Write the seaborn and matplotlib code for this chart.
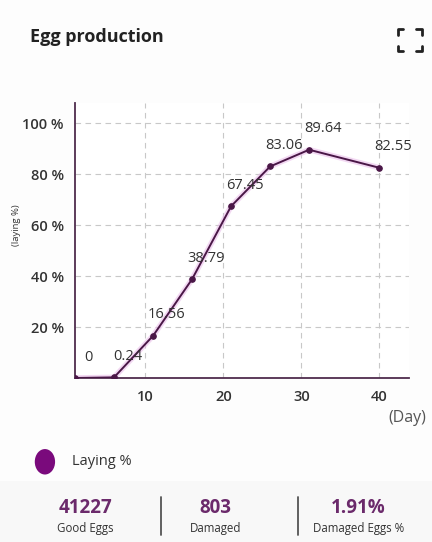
import numpy as np
import pandas as pd
import seaborn as sns
import matplotlib.pyplot as plt
from matplotlib.patches import Rectangle, Circle

sns.set_style("white")
plt.rcParams['font.family'] = ['Open Sans', 'DejaVu Sans']

# data
days = [1, 6, 11, 16, 21, 26, 31, 40]
laying = [0, 0.24, 16.56, 38.79, 67.45, 83.06, 89.64, 82.55]
y_ticks = [20, 40, 60, 80, 100]
x_ticks = [10, 20, 30, 40]
stat_values = ["41227", "803", "1.91%"]
stat_names = ["Good Eggs", "Damaged", "Damaged Eggs %"]

df = pd.DataFrame({"day": days, "laying": laying})

line_col = "#4a1747"
glow_col = "#e9b8e9"
legend_col = "#7a0a7c"
text_col = "#333333"

fig = plt.figure(figsize=(4.32, 5.42), dpi=100)
fig.patch.set_facecolor("#fdfdfd")

# bottom stats band
fig.patches.append(Rectangle((0, 0), 1, 0.112, transform=fig.transFigure,
                             facecolor="#f8f8f8", edgecolor="none", zorder=0))

ax = fig.add_axes([0.1736, 0.3026, 0.7732, 0.5074])
ax.set_facecolor("white")

# soft glow under the line
ax.plot(df["day"], df["laying"], color=glow_col, lw=4, alpha=0.55, zorder=2,
        solid_capstyle="round")
sns.lineplot(data=df, x="day", y="laying", ax=ax, color=line_col, lw=1.4,
             marker="o", markersize=4, markeredgecolor=line_col, zorder=3)

for d, v in zip(days, laying):
    lbl = "0" if v == 0 else f"{v:g}"
    ax.annotate(lbl, (d, v), xytext=(10, 15), textcoords="offset points",
                ha="center", va="center", fontsize=10.5, color=text_col,
                annotation_clip=False, zorder=4)

ax.set_xlim(1, 43.8)
ax.set_ylim(0, 108)
ax.set_xticks(x_ticks)
ax.set_yticks(y_ticks)
ax.set_yticklabels([f"{t} %" for t in y_ticks])
ax.tick_params(axis="both", length=0, labelsize=10.5, labelcolor=text_col)
for t in ax.get_xticklabels() + ax.get_yticklabels():
    t.set_fontweight("semibold")
ax.tick_params(axis="x", pad=9)
ax.tick_params(axis="y", pad=8)
ax.grid(True, color="#c8c8c8", linestyle=(0, (5, 4)), lw=0.8)
ax.set_axisbelow(True)
for s in ["top", "right"]:
    ax.spines[s].set_visible(False)
for s in ["left", "bottom"]:
    ax.spines[s].set_color("#4f2c4d")
    ax.spines[s].set_linewidth(1.3)
ax.set_xlabel("")
ax.set_ylabel("")

fig.text(0.039, 0.585, "(laying %)", rotation=90, ha="center", va="center",
         fontsize=6.8, color=text_col)
fig.text(0.9, 0.228, "(Day)", ha="left", va="center", fontsize=11.5,
         color="#555555")

# title and expand icon
fig.text(0.069, 0.932, "Egg production", ha="left", va="center",
         fontsize=13, fontweight="bold", color="#222222")
x0, x1, y0, y1 = 0.921, 0.977, 0.906, 0.946
ax_, ay_ = 0.013, 0.010
corners = [(x0, y1, 1, -1), (x1, y1, -1, -1), (x0, y0, 1, 1), (x1, y0, -1, 1)]
for cx, cy, dx, dy in corners:
    fig.lines.append(plt.Line2D([cx + dx * ax_, cx, cx], [cy, cy, cy + dy * ay_],
                                transform=fig.transFigure, color="#222222",
                                lw=2.0))

# legend
fig.patches.append(Circle((0.104, 0.148), 0.0235, transform=fig.transFigure,
                          facecolor=legend_col, edgecolor="none"))
fig.text(0.167, 0.148, "Laying %", ha="left", va="center", fontsize=10.5,
         color=text_col)

# stats
centers = [0.197, 0.498, 0.829]
for cx, val, name in zip(centers, stat_values, stat_names):
    fig.text(cx, 0.063, val, ha="center", va="center", fontsize=13.5,
             fontweight="bold", color="#6b2a6b")
    fig.text(cx, 0.025, name, ha="center", va="center", fontsize=8.3,
             color=text_col)
for xv in [0.372, 0.69]:
    fig.lines.append(plt.Line2D([xv, xv], [0.013, 0.083],
                                transform=fig.transFigure, color="#555555",
                                lw=1.3))

fig.savefig("out.png", dpi=100)
